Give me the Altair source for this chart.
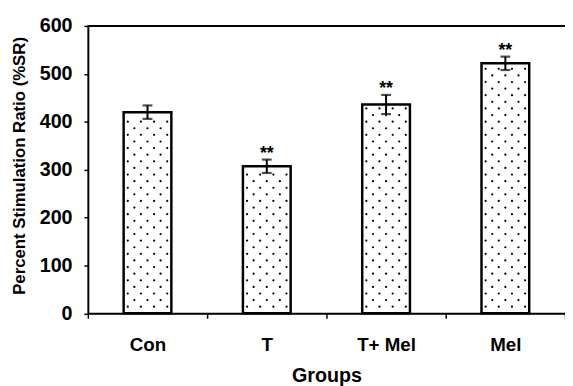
import altair as alt
import pandas as pd

groups = ["Con", "T", "T+ Mel", "Mel"]
values = [420, 307, 436, 522]
errors = [14, 14, 20, 14]
stars = ["", "**", "**", "**"]
y_ticks = [0, 100, 200, 300, 400, 500, 600]

df = pd.DataFrame({"g": groups, "v": values, "e": errors, "s": stars})
df["lo"] = df["v"] - df["e"]
df["hi"] = df["v"] + df["e"]

# dotted fill texture (staggered grid inside each bar)
row_step = 13.8
dot_rows = []
for i, (g, v) in enumerate(zip(groups, values)):
    k = 1
    while row_step * k < v - 6:
        offs = [-20, -6.7, 6.7, 20] if k % 2 else [-13.3, 0, 13.3]
        for o in offs:
            dot_rows.append({"g": g, "yy": row_step * k, "xp": i + 0.5 + o / 121})
        k += 1
dots = pd.DataFrame(dot_rows)

FONT = "Liberation Sans"

x_enc = alt.X(
    "g:N", sort=groups, title="Groups",
    scale=alt.Scale(paddingInner=0, paddingOuter=0),
    axis=alt.Axis(
        tickBand="extent", labelAngle=0, tickSize=5, labelPadding=33,
        labelBaseline="alphabetic", labelFontSize=19, labelFont=FONT,
        labelFontWeight="bold", titleFont=FONT, titleFontSize=20,
        titleFontWeight="bold", titleX=242, titleY=69, titleBaseline="alphabetic",
        domainWidth=2, tickWidth=1.5, domainColor="black", tickColor="black",
        labelColor="black", titleColor="black",
    ),
)
y_scale = alt.Scale(domain=[0, 600], nice=False)
y_axis = alt.Axis(
    values=y_ticks, tickSize=4, labelPadding=12, labelFontSize=20,
    labelFont=FONT, labelFontWeight="bold", titleFont=FONT, titleFontSize=17,
    titleFontWeight="bold", grid=False, domainWidth=2, tickWidth=1.5,
    domainColor="black", tickColor="black", labelColor="black",
    titleColor="black", titleX=-69, titleY=141.5, titleAlign="center",
    titleBaseline="middle", titleAngle=-90,
)

base = alt.Chart(df)
xg = alt.X("g:N", sort=groups)

bars = base.mark_bar(fill="white", stroke="black", strokeWidth=2.5,
                     width=alt.RelativeBandSize(0.4)).encode(
    x=x_enc,
    y=alt.Y("v:Q", scale=y_scale, axis=y_axis,
            title="Percent Stimulation Ratio (%SR)"),
)

err_rule = base.mark_rule(color="black", strokeWidth=2).encode(
    x=xg, y=alt.Y("lo:Q", scale=y_scale), y2="hi:Q")
cap_hi = base.mark_tick(color="black", size=10, thickness=2.2).encode(
    x=xg, y=alt.Y("hi:Q", scale=y_scale))
cap_lo = base.mark_tick(color="black", size=10, thickness=2.2).encode(
    x=xg, y=alt.Y("lo:Q", scale=y_scale))

star_text = base.mark_text(font=FONT, fontSize=18, fontWeight="bold",
                           baseline="alphabetic", dy=-1, color="black").encode(
    x=xg, y=alt.Y("hi:Q", scale=y_scale), text="s:N")

top_line = alt.Chart(df).mark_rule(color="black", strokeWidth=2).encode(
    y=alt.datum(600))

main = alt.layer(bars, err_rule, cap_hi, cap_lo, star_text, top_line)

dot_layer = alt.Chart(dots).mark_circle(color="black", size=5, opacity=1).encode(
    x=alt.X("xp:Q", scale=alt.Scale(domain=[0, 4], nice=False, zero=False), axis=None),
    y=alt.Y("yy:Q", scale=y_scale),
)

chart = alt.layer(main, dot_layer).resolve_scale(x="independent").properties(
    width=484, height=291.5,
    autosize=alt.AutoSizeParams(type="none"),
    padding={"left": 81, "top": 15.5, "right": 0, "bottom": 71},
).configure_view(stroke=None).configure(background="white")

chart.save("out.html", embed_options={"renderer": "svg", "actions": False})
